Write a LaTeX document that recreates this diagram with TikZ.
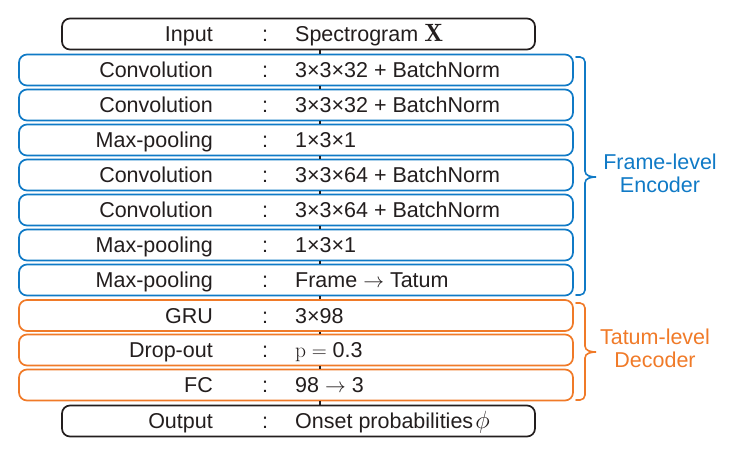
\documentclass[tikz,border=0pt]{standalone}
\usepackage{fontspec}
\setsansfont{Liberation Sans}
\definecolor{encblue}{RGB}{16,122,198}
\definecolor{decorange}{RGB}{240,122,40}
\definecolor{ink}{RGB}{35,30,30}
\newcommand\layerrow[6]{%
  \node[#3] (#1) at (#4,#2) {};
  \node[lab] (#1-l) at (213,#2+7.5) {#5};
  \node[colon] (#1-c) at (265,#2+7.5) {:};
  \node[val] (#1-v) at (295,#2+7.5) {#6};}
\newcommand\bigsym[2]{{\fontsize{#1}{#1}\selectfont$#2$}}
\begin{document}
\begin{tikzpicture}[x=1pt,y=-1pt,
  box/.style={draw, line width=1.7pt, rounded corners=8pt, fill=white, minimum height=31pt, inner sep=0pt},
  enc/.style={box, draw=encblue, minimum width=554pt},
  dec/.style={box, draw=decorange, minimum width=554pt},
  io/.style={box, draw=ink, minimum width=473pt},
  txt/.style={font=\sffamily\fontsize{21.5}{24}\selectfont, inner sep=0pt, text=ink},
  lab/.style={txt, anchor=base east},
  colon/.style={txt, anchor=base},
  val/.style={txt, anchor=base west},
  conn/.style={draw=ink, line width=1.4pt},
  brace/.style={line width=1.6pt, line cap=round},
  grp/.style={font=\sffamily\fontsize{21.5}{23}\selectfont, align=center, inner sep=0pt}
]
\useasboundingbox (0,0) rectangle (748,456);
\coordinate (colx) at (320,0);
\layerrow{inp}{34}{io}{298.5}{Input}{Spectrogram \bigsym{25}{\mathbf{X}}}
\layerrow{e1}{70}{enc}{296}{Convolution}{3×3×32 + BatchNorm}
\layerrow{e2}{105}{enc}{296}{Convolution}{3×3×32 + BatchNorm}
\layerrow{e3}{140}{enc}{296}{Max-pooling}{1×3×1}
\layerrow{e4}{175}{enc}{296}{Convolution}{3×3×64 + BatchNorm}
\layerrow{e5}{210}{enc}{296}{Convolution}{3×3×64 + BatchNorm}
\layerrow{e6}{245}{enc}{296}{Max-pooling}{1×3×1}
\layerrow{e7}{280}{enc}{296}{Max-pooling}{Frame $\rightarrow$ Tatum}
\layerrow{d1}{315.5}{dec}{296}{GRU}{3×98}
\layerrow{d2}{350}{dec}{296}{Drop-out}{$\mathrm{p}=\mbox{\sffamily 0.3}$}
\layerrow{d3}{385}{dec}{296}{FC}{98 $\rightarrow$ 3}
\layerrow{out}{421}{io}{298.5}{Output}{Onset probabilities\kern2pt\bigsym{30}{\phi}}
\foreach \a/\b in {inp/e1,e1/e2,e2/e3,e3/e4,e4/e5,e5/e6,e6/e7,e7/d1,d1/d2,d2/d3,d3/out}
  \draw[conn] (\a.south -| colx) -- (\b.north -| colx);
% encoder brace
\draw[brace, encblue] (576,57) -- (580,57) to[out=0,in=90] (585,62) -- (585,171)
  to[out=-90,in=180] (596,177) to[out=180,in=90] (585,183) -- (585,290)
  to[out=-90,in=0] (580,295) -- (576,295);
\node[grp, text=encblue] (enclab) at (660,173.5) {Frame-level\\Encoder};
% decoder brace
\draw[brace, decorange] (576,303) -- (580,303) to[out=0,in=90] (585,308) -- (585,346)
  to[out=-90,in=180] (596,352) to[out=180,in=90] (585,358) -- (585,395)
  to[out=-90,in=0] (580,400) -- (576,400);
\node[grp, text=decorange] (declab) at (655,348.5) {Tatum-level\\Decoder};
\end{tikzpicture}
\end{document}
